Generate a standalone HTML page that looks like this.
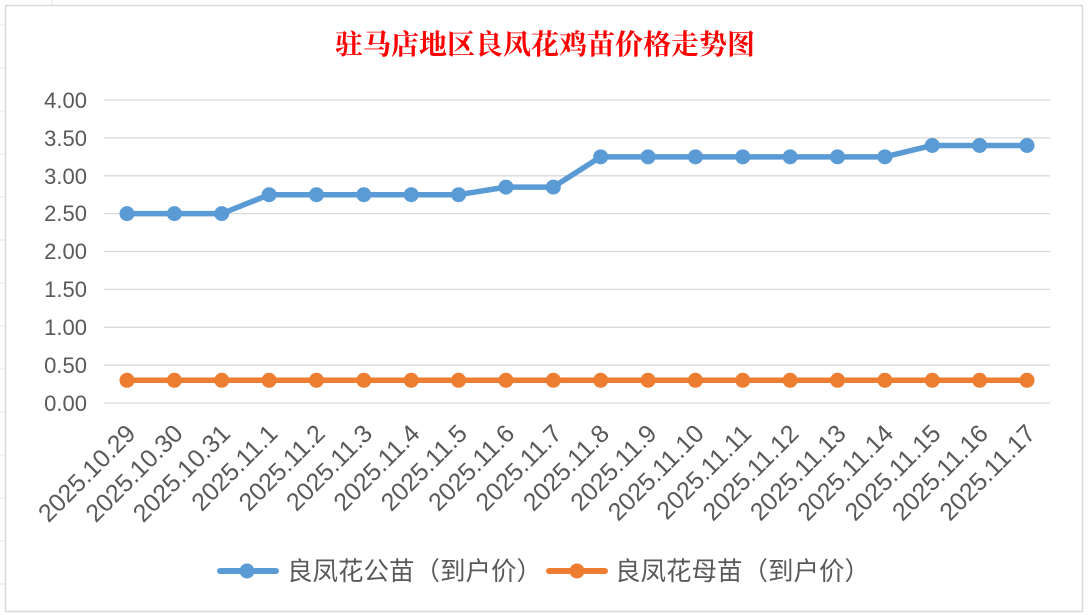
<!DOCTYPE html>
<html><head><meta charset="utf-8"><style>
html,body{margin:0;padding:0;background:#fff;}
svg{display:block;}
</style></head><body>
<svg width="1088" height="615" xmlns="http://www.w3.org/2000/svg">
<rect x="0" y="0" width="1088" height="615" fill="#fff"/>
<g stroke="#e6e6e6" stroke-width="1">
<line x1="0" y1="25" x2="5" y2="25"/><line x1="0" y1="68" x2="5" y2="68"/><line x1="0" y1="111" x2="5" y2="111"/>
<line x1="0" y1="154" x2="5" y2="154"/><line x1="0" y1="197" x2="5" y2="197"/><line x1="0" y1="240" x2="5" y2="240"/>
<line x1="0" y1="283" x2="5" y2="283"/><line x1="0" y1="326" x2="5" y2="326"/><line x1="0" y1="369" x2="5" y2="369"/>
<line x1="0" y1="412" x2="5" y2="412"/><line x1="0" y1="455" x2="5" y2="455"/><line x1="0" y1="498" x2="5" y2="498"/>
<line x1="0" y1="541" x2="5" y2="541"/><line x1="0" y1="584" x2="5" y2="584"/>
<line x1="52" y1="0" x2="52" y2="5"/>
</g>
<rect x="5.5" y="5.5" width="1077" height="606" fill="#fff" stroke="#d9d9d9" stroke-width="1.5"/>
<text x="545" y="54" text-anchor="middle" font-family="'Liberation Serif','Noto Serif CJK SC',serif" font-size="28" font-weight="bold" fill="#ff0000">驻马店地区良凤花鸡苗价格走势图</text>
<g stroke="#d9d9d9" stroke-width="1.3">
<line x1="104" y1="100" x2="1050" y2="100"/>
<line x1="104" y1="137.9" x2="1050" y2="137.9"/>
<line x1="104" y1="175.8" x2="1050" y2="175.8"/>
<line x1="104" y1="213.6" x2="1050" y2="213.6"/>
<line x1="104" y1="251.5" x2="1050" y2="251.5"/>
<line x1="104" y1="289.4" x2="1050" y2="289.4"/>
<line x1="104" y1="327.3" x2="1050" y2="327.3"/>
<line x1="104" y1="365.1" x2="1050" y2="365.1"/>
<line x1="104" y1="403" x2="1050" y2="403"/>
</g>
<g font-family="'Liberation Sans',sans-serif" font-size="22" fill="#595959" text-anchor="end">
<text x="87" y="108">4.00</text>
<text x="87" y="146">3.50</text>
<text x="87" y="184">3.00</text>
<text x="87" y="221">2.50</text>
<text x="87" y="259">2.00</text>
<text x="87" y="297">1.50</text>
<text x="87" y="335">1.00</text>
<text x="87" y="373">0.50</text>
<text x="87" y="411">0.00</text>
</g>
<g id="labels" font-family="'Liberation Sans',sans-serif" font-size="25" fill="#595959" text-anchor="end"></g>
<g id="series"></g>
<g font-family="'Liberation Sans','Noto Sans CJK SC',sans-serif" font-size="25.5" fill="#595959">
<line x1="220" y1="571" x2="276" y2="571" stroke="#5b9bd5" stroke-width="6" stroke-linecap="round"/>
<circle cx="247" cy="571" r="7.5" fill="#5b9bd5"/>
<text x="287" y="580">良凤花公苗（到户价）</text>
<line x1="549" y1="571" x2="605" y2="571" stroke="#ed7d31" stroke-width="6" stroke-linecap="round"/>
<circle cx="577" cy="571" r="7.5" fill="#ed7d31"/>
<text x="615" y="580">良凤花母苗（到户价）</text>
</g>
</svg>
<script>
var ns="http://www.w3.org/2000/svg";
var dates=["2025.10.29","2025.10.30","2025.10.31","2025.11.1","2025.11.2","2025.11.3","2025.11.4","2025.11.5","2025.11.6","2025.11.7","2025.11.8","2025.11.9","2025.11.10","2025.11.11","2025.11.12","2025.11.13","2025.11.14","2025.11.15","2025.11.16","2025.11.17"];
var a=[2.5,2.5,2.5,2.75,2.75,2.75,2.75,2.75,2.85,2.85,3.25,3.25,3.25,3.25,3.25,3.25,3.25,3.4,3.4,3.4];
function X(i){return 127+i*900/19;}
function Y(v){return 403-v*75.75;}
var lg=document.getElementById("labels"),sg=document.getElementById("series");
dates.forEach(function(d,i){var t=document.createElementNS(ns,"text");var x=X(i)+10,y=435;
t.setAttribute("x",x);t.setAttribute("y",y);t.setAttribute("transform","rotate(-45 "+x+" "+y+")");t.textContent=d;lg.appendChild(t);});
function series(vals,col){var p=vals.map(function(v,i){return X(i)+","+Y(v)}).join(" ");
var pl=document.createElementNS(ns,"polyline");pl.setAttribute("points",p);pl.setAttribute("fill","none");pl.setAttribute("stroke",col);pl.setAttribute("stroke-width","5.5");pl.setAttribute("stroke-linejoin","round");sg.appendChild(pl);
vals.forEach(function(v,i){var c=document.createElementNS(ns,"circle");c.setAttribute("cx",X(i));c.setAttribute("cy",Y(v));c.setAttribute("r","7.5");c.setAttribute("fill",col);sg.appendChild(c);});}
series(a,"#5b9bd5");
series(a.map(function(){return 0.3}),"#ed7d31");
</script>
</body></html>
